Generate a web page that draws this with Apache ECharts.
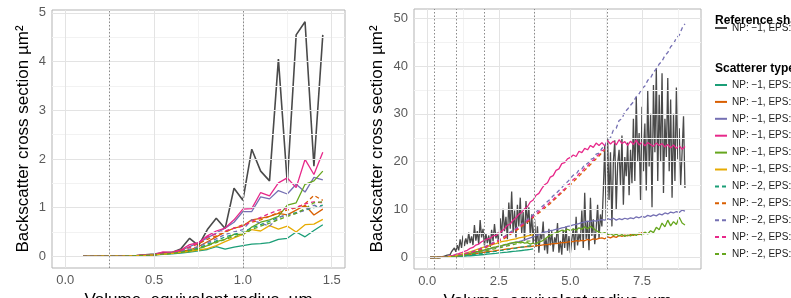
<!DOCTYPE html>
<html>
<head>
<meta charset="utf-8">
<script src="https://cdn.jsdelivr.net/npm/echarts@6/dist/echarts.min.js"></script>
<style>
html, body { margin: 0; padding: 0; background: #fff; }
#chart { width: 791px; height: 298px; }
</style>
</head>
<body>
<div id="chart"></div>
<script>
// ---- left panel: radius 0.10 .. 1.45 um (step 0.05) ----
const leftX = [0.1, 0.15, 0.2, 0.25, 0.3, 0.35, 0.4, 0.45, 0.5, 0.55, 0.6, 0.65, 0.7, 0.75,
    0.8, 0.85, 0.9, 0.95, 1.0, 1.05, 1.1, 1.15, 1.2, 1.25, 1.3, 1.35, 1.4, 1.45]
const leftRef = [0, 0, 0.001, 0.003, 0.006, 0.01, 0.018, 0.03, 0.045, 0.07, 0.08, 0.15, 0.37, 0.22,
    0.55, 0.78, 0.57, 1.4, 1.15, 2.2, 1.75, 1.55, 4.05, 1.5, 4.55, 4.82, 1.85, 4.55]
const leftTeal = [0, 0, 0.001, 0.002, 0.004, 0.007, 0.012, 0.019, 0.028, 0.04, 0.05, 0.065, 0.085, 0.11,
    0.14, 0.2, 0.15, 0.19, 0.22, 0.25, 0.26, 0.28, 0.35, 0.37, 0.5, 0.4, 0.53, 0.65]
const leftOrange = [0, 0, 0.001, 0.002, 0.005, 0.008, 0.014, 0.022, 0.034, 0.05, 0.07, 0.1, 0.13, 0.2,
    0.3, 0.4, 0.5, 0.58, 0.62, 0.75, 0.78, 0.82, 0.88, 0.85, 0.95, 1.05, 0.85, 0.97]
const leftPurple = [0, 0, 0.001, 0.002, 0.005, 0.008, 0.014, 0.022, 0.034, 0.05, 0.08, 0.12, 0.2, 0.28,
    0.38, 0.48, 0.58, 0.7, 0.92, 0.92, 1.22, 1.18, 1.35, 1.28, 1.48, 1.32, 1.62, 1.57]
const leftPink = [0, 0, 0.001, 0.002, 0.005, 0.008, 0.014, 0.022, 0.034, 0.09, 0.08, 0.13, 0.24, 0.28,
    0.42, 0.52, 0.58, 0.75, 0.97, 0.98, 1.31, 1.24, 1.51, 1.61, 1.41, 1.99, 1.68, 2.14]
const leftGreen = [0, 0, 0.001, 0.002, 0.004, 0.007, 0.012, 0.02, 0.03, 0.045, 0.06, 0.08, 0.11, 0.16,
    0.22, 0.3, 0.35, 0.45, 0.45, 0.6, 0.7, 0.75, 0.82, 1.05, 1.1, 1.48, 1.55, 1.75]
const leftYellow = [0, 0, 0.001, 0.002, 0.004, 0.007, 0.012, 0.02, 0.03, 0.045, 0.06, 0.08, 0.1, 0.13,
    0.16, 0.22, 0.3, 0.38, 0.45, 0.55, 0.52, 0.63, 0.56, 0.62, 0.5, 0.65, 0.66, 0.76]
const leftTeal2 = [0, 0, 0.001, 0.002, 0.005, 0.008, 0.013, 0.021, 0.032, 0.048, 0.065, 0.09, 0.12, 0.17,
    0.25, 0.32, 0.4, 0.45, 0.5, 0.58, 0.65, 0.72, 0.8, 0.85, 0.9, 0.95, 1.0, 1.05]
const leftOrange2 = [0, 0, 0.001, 0.002, 0.005, 0.009, 0.015, 0.024, 0.036, 0.055, 0.08, 0.12, 0.18, 0.26,
    0.35, 0.42, 0.5, 0.58, 0.65, 0.7, 0.75, 0.82, 0.9, 0.95, 1.0, 1.08, 1.25, 1.15]
const leftPurple2 = [0, 0, 0.001, 0.002, 0.005, 0.008, 0.014, 0.022, 0.034, 0.05, 0.07, 0.1, 0.15, 0.2,
    0.28, 0.36, 0.45, 0.5, 0.55, 0.75, 0.68, 0.62, 0.8, 0.85, 0.88, 0.95, 1.05, 1.0]
const leftPink2 = [0, 0, 0.001, 0.002, 0.005, 0.009, 0.015, 0.024, 0.036, 0.055, 0.08, 0.12, 0.19, 0.28,
    0.4, 0.46, 0.52, 0.58, 0.62, 0.72, 0.8, 0.88, 0.95, 0.98, 1.0, 1.08, 1.12, 1.1]
const leftGreen2 = [0, 0, 0.001, 0.002, 0.004, 0.007, 0.012, 0.02, 0.03, 0.045, 0.06, 0.08, 0.11, 0.15,
    0.22, 0.28, 0.35, 0.4, 0.45, 0.55, 0.62, 0.68, 0.75, 0.82, 0.88, 0.98, 1.1, 1.12]

// ---- right panel: each series runs evenly from its first to its last radius ----
// reference shape, 0.10 .. 9.00 (step 0.05)
const rightRef = [
    0, 0, 0, 0, 0, 0.02, 0.05, 0.1, 0.15, 0.2,
    0.3, 0.4, 0.5, 0.8, 0.6, 1.2, 0.9, 2.0, 1.2, 2.6,
    1.5, 3.8, 2.0, 4.6, 2.4, 4.0, 2.8, 5.2, 3.0, 4.4,
    2.6, 6.8, 3.5, 5.5, 2.8, 7.8, 4.2, 6.0, 2.5, 5.0,
    3.0, 4.6, 2.2, 5.8, 3.4, 7.0, 4.0, 5.2, 2.8, 8.2,
    4.5, 10.2, 5.5, 8.5, 3.8, 11.5, 6.0, 13.8, 5.2, 9.8,
    4.2, 11.0, 6.5, 12.5, 5.0, 9.5, 3.5, 11.8, 7.0, 10.5,
    4.5, 9.0, 3.0, 8.0, 2.2, 6.5, 1.0, 5.0, 3.8, 7.5,
    1.5, 4.0, 0.8, 6.0, 2.5, 5.5, 1.2, 4.2, 3.0, 7.2,
    1.0, 3.5, 0.6, 5.8, 2.0, 6.5, 1.4, 4.5, 0.9, 3.8,
    6.0, 1.6, 8.5, 2.5, 5.0, 3.5, 9.8, 2.0, 13.5, 3.8,
    7.5, 1.5, 12.5, 4.5, 8.0, 2.8, 6.0, 11.0, 4.0, 9.0,
    6.5, 14.0, 23.5, 8.0, 25.0, 12.0, 22.0, 6.5, 20.0, 24.5,
    10.0, 19.5, 22.5, 15.0, 25.5, 11.0, 21.0, 17.0, 24.0, 13.0,
    22.5, 15.5, 29.0, 16.0, 33.5, 20.0, 26.0, 12.0, 31.5, 18.0,
    28.0, 14.0, 35.0, 19.0, 30.0, 10.5, 36.0, 22.0, 39.5, 16.0,
    34.0, 20.0, 38.5, 13.5, 29.0, 21.0, 37.5, 18.0, 33.0, 12.5,
    30.0, 16.0, 35.5, 20.5, 27.0, 15.0, 22.0, 29.5, 14.5]
// 0.1 .. 3.7
const rightTeal = [0, 0, 0, 0, 0.01, 0.02, 0.04, 0.07, 0.1, 0.14,
    0.18, 0.22, 0.27, 0.32, 0.37, 0.42, 0.47, 0.52, 0.58, 0.63,
    0.7, 0.76, 0.82, 0.88, 0.95, 1.0, 1.06, 1.12, 1.2, 1.26,
    1.32, 1.4, 1.46, 1.55, 1.62, 1.7, 1.8]
// 0.1 .. 7.6
const rightOrange = [0, 0, 0, 0, 0.02, 0.04, 0.08, 0.12, 0.18, 0.25,
    0.32, 0.4, 0.48, 0.56, 0.65, 0.74, 0.83, 0.92, 1.0, 1.1,
    1.2, 1.3, 1.35, 1.45, 1.55, 1.6, 1.7, 1.8, 1.85, 1.95,
    2.0, 2.1, 2.15, 2.2, 2.3, 2.3, 2.4, 2.5, 2.5, 2.6,
    2.7, 2.7, 2.8, 2.9, 2.9, 3.0, 3.1, 3.1, 3.2, 3.3,
    3.3, 3.5, 3.4, 3.6, 3.5, 3.8, 3.6, 3.9, 3.8, 4.0,
    4.1, 3.9, 4.3, 4.1, 4.4, 4.2, 4.6, 4.4, 4.7, 4.5,
    4.8, 4.6, 5.0, 4.8, 5.2, 5.0]
// 0.1 .. 9.0
const rightPurple = [0, 0, 0, 0, 0.02, 0.05, 0.1, 0.15, 0.25, 0.3,
    0.4, 0.5, 0.6, 0.7, 0.85, 0.95, 1.1, 1.2, 1.4, 1.5,
    1.7, 1.8, 2.0, 2.1, 2.3, 2.4, 2.6, 2.7, 2.9, 3.0,
    3.2, 3.3, 3.5, 3.7, 3.9, 4.1, 4.3, 4.6, 4.8, 5.1,
    5.3, 5.4, 5.6, 5.7, 5.9, 6.0, 6.2, 6.3, 6.5, 6.6,
    6.8, 6.9, 7.1, 7.3, 7.4, 7.6, 7.5, 7.7, 7.6, 7.8,
    7.9, 7.8, 8.1, 7.9, 8.2, 7.8, 8.1, 7.9, 8.2, 8.0,
    8.3, 8.1, 8.5, 8.3, 8.6, 8.4, 8.8, 8.6, 8.9, 8.7,
    9.1, 8.9, 9.3, 9.1, 9.5, 9.3, 9.6, 9.4, 9.9, 9.7]
// 0.1 .. 9.0
const rightPink = [0, 0, 0, 0.02, 0.05, 0.1, 0.2, 0.35, 0.45, 0.65,
    0.8, 1.0, 1.3, 1.5, 1.9, 2.1, 2.6, 2.8, 3.3, 3.6,
    3.9, 4.0, 4.5, 4.6, 5.1, 5.5, 6.0, 6.7, 7.0, 7.8,
    8.3, 9.0, 9.4, 10.2, 10.6, 11.6, 12.0, 13.0, 13.4, 14.4,
    15.2, 15.6, 16.8, 17.1, 18.2, 18.5, 19.6, 19.8, 20.6, 20.9,
    21.4, 21.1, 22.2, 21.9, 22.8, 22.5, 23.4, 23.0, 23.9, 23.4,
    24.0, 23.3, 24.4, 23.7, 24.3, 23.5, 24.6, 23.8, 24.2, 23.4,
    24.3, 23.6, 24.5, 23.5, 24.1, 23.3, 24.0, 23.6, 23.2, 23.9,
    23.4, 23.8, 23.1, 23.6, 22.9, 23.5, 22.8, 23.3, 22.6, 23.2]
// 0.1 .. 9.0
const rightGreen = [0, 0, 0, 0, 0.02, 0.05, 0.1, 0.15, 0.2, 0.3,
    0.4, 0.5, 0.65, 0.75, 0.9, 1.0, 1.2, 1.3, 1.5, 1.6,
    1.8, 1.9, 2.1, 2.2, 2.4, 2.5, 2.7, 2.8, 3.0, 3.1,
    3.2, 3.1, 3.3, 3.0, 3.1, 2.8, 3.0, 2.9, 3.2, 3.4,
    3.8, 4.3, 4.6, 5.0, 5.2, 5.4, 5.7, 5.5, 5.9, 5.6,
    6.0, 5.7, 6.2, 5.9, 6.4, 6.0, 6.5, 6.1, 5.6, 5.3,
    5.0, 5.2, 4.8, 5.0, 4.6, 4.9, 4.5, 4.8, 4.4, 4.7,
    4.5, 4.9, 4.6, 5.1, 4.7, 5.3, 4.9, 5.6, 5.2, 6.3,
    5.8, 7.2, 6.4, 7.8, 6.6, 7.5, 6.9, 8.4, 7.2, 6.8]
// 0.1 .. 3.7
const rightYellow = [0, 0, 0, 0, 0.02, 0.05, 0.1, 0.2, 0.3, 0.4,
    0.55, 0.7, 0.85, 1.0, 1.2, 1.4, 1.6, 1.8, 2.0, 2.2,
    2.4, 2.6, 2.8, 2.9, 3.1, 3.3, 3.4, 3.5, 3.7, 3.8,
    3.9, 4.1, 4.2, 4.3, 4.5, 4.6, 4.8]
// 0.1 .. 3.7
const rightTeal2 = [0, 0, 0, 0, 0.01, 0.03, 0.06, 0.1, 0.15, 0.2,
    0.26, 0.32, 0.4, 0.47, 0.55, 0.62, 0.7, 0.78, 0.86, 0.95,
    1.05, 1.12, 1.22, 1.3, 1.4, 1.48, 1.58, 1.66, 1.76, 1.85,
    1.95, 2.05, 2.15, 2.25, 2.35, 2.45, 2.55]
// 0.1 .. 6.2
const rightOrange2 = [0, 0, 0, 0, 0.02, 0.04, 0.09, 0.18, 0.27, 0.36,
    0.46, 0.56, 0.7, 0.82, 0.98, 1.12, 1.32, 1.5, 1.75, 1.95,
    2.2, 2.45, 2.8, 3.0, 3.4, 3.7, 4.0, 4.4, 4.8, 5.2,
    5.6, 6.0, 6.5, 6.9, 7.4, 7.8, 8.3, 8.8, 9.3, 9.7,
    10.3, 10.8, 11.3, 11.9, 12.4, 13.0, 13.5, 14.1, 14.7, 15.2,
    15.8, 16.4, 17.0, 17.6, 18.2, 18.8, 19.4, 20.0, 20.6, 21.2,
    21.9, 22.4]
// 0.1 .. 9.0
const rightPurple2 = [0, 0, 0, 0, 0.02, 0.05, 0.1, 0.2, 0.3, 0.4,
    0.5, 0.6, 0.8, 0.9, 1.1, 1.3, 1.5, 1.7, 2.0, 2.2,
    2.5, 2.8, 3.1, 3.4, 3.7, 4.1, 4.4, 4.9, 5.3, 5.7,
    6.1, 6.5, 7.0, 7.5, 7.9, 8.5, 8.9, 9.5, 10.0, 10.6,
    11.1, 11.7, 12.2, 12.9, 13.4, 14.0, 14.6, 15.3, 15.8, 16.5,
    17.2, 17.4, 18.3, 18.5, 19.4, 19.6, 20.5, 20.7, 21.6, 21.8,
    22.8, 23.2, 24.6, 25.0, 26.6, 27.0, 28.6, 29.0, 30.4, 31.0,
    31.8, 32.5, 33.6, 34.2, 35.3, 35.8, 37.0, 37.5, 38.7, 39.4,
    40.4, 41.0, 42.2, 42.8, 44.0, 44.6, 45.9, 46.4, 47.9, 48.8]
// 0.1 .. 6.2
const rightPink2 = [0, 0, 0, 0, 0.02, 0.05, 0.1, 0.2, 0.3, 0.4,
    0.5, 0.6, 0.75, 0.9, 1.05, 1.2, 1.45, 1.6, 1.9, 2.1,
    2.4, 2.6, 3.0, 3.2, 3.6, 3.9, 4.3, 4.6, 5.1, 5.4,
    5.9, 6.2, 6.8, 7.1, 7.7, 8.0, 8.6, 9.0, 9.6, 10.0,
    10.7, 11.0, 11.7, 12.1, 12.8, 13.2, 13.9, 14.3, 15.1, 15.5,
    16.3, 16.7, 17.5, 17.9, 18.7, 19.1, 19.9, 20.3, 21.1, 21.5,
    22.3, 22.6]
// 0.1 .. 3.7
const rightGreen2 = [0, 0, 0, 0, 0.02, 0.05, 0.09, 0.14, 0.2, 0.27,
    0.35, 0.44, 0.54, 0.64, 0.75, 0.86, 0.98, 1.1, 1.22, 1.35,
    1.48, 1.6, 1.74, 1.87, 2.0, 2.14, 2.28, 2.42, 2.55, 2.7,
    2.85, 2.98, 3.1, 3.25, 3.4, 3.5, 3.65]

// ---- ticks ----
const leftXTicks = [0, 0.5, 1.0, 1.5]
const leftYTicks = [0, 1, 2, 3, 4, 5]
const rightXTicks = [0, 2.5, 5.0, 7.5]
const rightYTicks = [0, 10, 20, 30, 40, 50]

const COLORS = ["#1B9E77", "#D95F02", "#7570B3", "#E7298A", "#66A61E", "#E6AB02"]
const REF_COLOR = "#4a4a4a"
const TYPE_KEYS = ["s1", "s2", "s3", "s4", "s5", "s6", "d1", "d2", "d3", "d4", "d5"]
const LABELS = {
    ref: "NP: \u22121, EPS:",
    s1: "NP: \u22121, EPS:", s2: "NP: \u22121, EPS:", s3: "NP: \u22121, EPS:",
    s4: "NP: \u22121, EPS:", s5: "NP: \u22121, EPS:", s6: "NP: \u22121, EPS:",
    d1: "NP: \u22122, EPS:", d2: "NP: \u22122, EPS:", d3: "NP: \u22122, EPS:",
    d4: "NP: \u22122, EPS:", d5: "NP: \u22122, EPS:",
}

function onLeft(ys) {
    return leftX.map((x, i) => [x, ys[i]])
}
function spread(x0, x1, ys) {
    return ys.map((y, i) => [x0 + (x1 - x0) * i / (ys.length - 1), y])
}

function line(name, data, color, dashed, idx, width) {
    return {
        name: name,
        type: "line",
        xAxisIndex: idx,
        yAxisIndex: idx,
        data: data,
        showSymbol: false,
        symbol: "none",
        z: 3,
        lineStyle: { color: color, width: width || 1.3, type: dashed ? [4, 3] : "solid" },
        itemStyle: { color: color },
    }
}

// gridlines + dotted guides drawn as mark lines so they can sit off the axis min
function guides(idx, majX, minX, majY, minY, dotX) {
    const d = []
    minX.forEach(v => d.push({ xAxis: v, lineStyle: { color: "#F2F2F2", width: 1, type: "solid" } }))
    minY.forEach(v => d.push({ yAxis: v, lineStyle: { color: "#F2F2F2", width: 1, type: "solid" } }))
    majX.forEach(v => d.push({ xAxis: v, lineStyle: { color: "#E3E3E3", width: 1, type: "solid" } }))
    majY.forEach(v => d.push({ yAxis: v, lineStyle: { color: "#E3E3E3", width: 1, type: "solid" } }))
    dotX.forEach(v => d.push({ xAxis: v, lineStyle: { color: "#8a8a8a", width: 1, type: [1.5, 2] } }))
    return {
        type: "line",
        xAxisIndex: idx,
        yAxisIndex: idx,
        data: [],
        silent: true,
        z: 1,
        markLine: { symbol: ["none", "none"], silent: true, animation: false, label: { show: false }, data: d },
    }
}

const tickLabel = { color: "#5a5a5a", fontSize: 13, fontFamily: "Liberation Sans" }
const axisName = { color: "#000", fontSize: 17, fontFamily: "Liberation Sans" }

function xAxis(idx, min, max, ticks) {
    return {
        type: "value", gridIndex: idx, min: min, max: max,
        name: "Volume_equivalent radius, \u00b5m", nameLocation: "middle", nameGap: 24, nameTextStyle: axisName,
        axisLine: { show: false },
        splitLine: { show: false },
        axisTick: { show: true, customValues: ticks, length: 4, lineStyle: { color: "#B3B3B3" } },
        axisLabel: { customValues: ticks, margin: 6, formatter: v => v.toFixed(1), ...tickLabel },
    }
}
function yAxis(idx, min, max, ticks, gap) {
    return {
        type: "value", gridIndex: idx, min: min, max: max,
        name: "Backscatter cross section \u00b5m\u00b2", nameLocation: "middle", nameGap: gap, nameTextStyle: axisName,
        axisLine: { show: false },
        splitLine: { show: false },
        axisTick: { show: true, customValues: ticks, length: 4, lineStyle: { color: "#B3B3B3" } },
        axisLabel: { customValues: ticks, margin: 6, ...tickLabel },
    }
}

const leftSets = [leftTeal, leftOrange, leftPurple, leftPink, leftGreen, leftYellow,
    leftTeal2, leftOrange2, leftPurple2, leftPink2, leftGreen2]
const rightSets = [
    spread(0.1, 3.7, rightTeal), spread(0.1, 7.6, rightOrange), spread(0.1, 9.0, rightPurple),
    spread(0.1, 9.0, rightPink), spread(0.1, 9.0, rightGreen), spread(0.1, 3.7, rightYellow),
    spread(0.1, 3.7, rightTeal2), spread(0.1, 6.2, rightOrange2), spread(0.1, 9.0, rightPurple2),
    spread(0.1, 6.2, rightPink2), spread(0.1, 3.7, rightGreen2)]

const series = [
    guides(0, [0, 0.5, 1.0, 1.5], [0.25, 0.75, 1.25], leftYTicks, [0.5, 1.5, 2.5, 3.5, 4.5], [0.25, 1.0]),
    guides(1, [0, 2.5, 5, 7.5], [1.25, 3.75, 6.25, 8.75], rightYTicks, [5, 15, 25, 35, 45], [0.25, 1.0, 2.0, 3.75, 6.3]),
    line("ref", onLeft(leftRef), REF_COLOR, false, 0, 1.6),
    line("ref", spread(0.1, 9.0, rightRef), REF_COLOR, false, 1, 1.3),
]
TYPE_KEYS.forEach((k, i) => {
    const dashed = i >= 6
    const color = COLORS[i % 6]
    series.push(line(k, onLeft(leftSets[i]), color, dashed, 0))
    series.push(line(k, rightSets[i], color, dashed, 1))
})

const legendText = { fontSize: 10, color: "#222", fontFamily: "Liberation Sans" }
const chart = echarts.init(document.getElementById("chart"))
chart.setOption({
    animation: false,
    title: [
        { text: "Reference shape", left: 715, top: 15, padding: 0,
            textStyle: { fontSize: 12, fontWeight: "bold", color: "#000", fontFamily: "Liberation Sans" } },
        { text: "Scatterer type", left: 715, top: 63, padding: 0,
            textStyle: { fontSize: 12, fontWeight: "bold", color: "#000", fontFamily: "Liberation Sans" } },
    ],
    legend: [
        { data: ["ref"], orient: "vertical", left: 714, top: 23, padding: 0, itemWidth: 12, itemHeight: 10,
            itemStyle: { opacity: 0 }, selectedMode: false, formatter: n => LABELS[n], textStyle: legendText },
        { data: TYPE_KEYS, orient: "vertical", left: 714, top: 80, padding: 0, itemWidth: 12, itemHeight: 10,
            itemGap: 6.9, itemStyle: { opacity: 0 }, selectedMode: false, formatter: n => LABELS[n], textStyle: legendText },
    ],
    grid: [
        { left: 52, top: 10, width: 293, height: 258, show: true, borderColor: "#B3B3B3", borderWidth: 1,
            outerBoundsMode: "none", containLabel: false },
        { left: 414, top: 9, width: 287, height: 260, show: true, borderColor: "#B3B3B3", borderWidth: 1,
            outerBoundsMode: "none", containLabel: false },
    ],
    xAxis: [xAxis(0, -0.075, 1.575, leftXTicks), xAxis(1, -0.46, 9.56, rightXTicks)],
    yAxis: [yAxis(0, -0.24, 5.06, leftYTicks, 20), yAxis(1, -2.4, 51.9, rightYTicks, 28)],
    series: series,
})
</script>
</body>
</html>
